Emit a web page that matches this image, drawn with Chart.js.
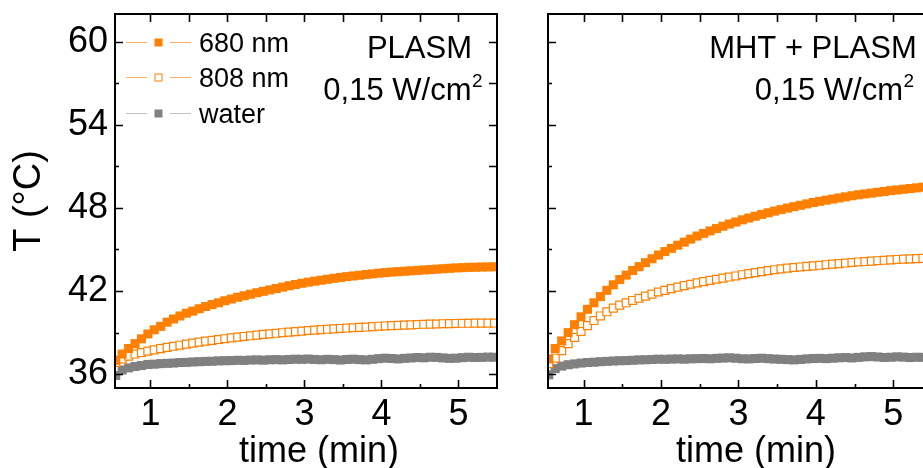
<!DOCTYPE html>
<html><head><meta charset="utf-8">
<script src="https://cdn.jsdelivr.net/npm/chart.js@4.4.0/dist/chart.umd.min.js"></script>
<style>
html,body{margin:0;padding:0;background:#fff;overflow:hidden;width:923px;height:468px;}
#w1{position:absolute;left:0;top:0;width:510px;height:468px;}
#w2{position:absolute;left:505px;top:0;width:440px;height:468px;}
canvas{display:block;}
</style></head><body>
<div id="w1"><canvas id="c1" width="510" height="468"></canvas></div>
<div id="w2"><canvas id="c2" width="440" height="468"></canvas></div>
<script>
// ---- data ----
const timeSec = [33,38,43,48,53,58,63,68,73,78,83,88,93,98,103,108,113,118,123,128,133,138,143,148,153,158,163,168,173,178,183,188,193,198,203,208,213,218,223,228,233,238,243,248,253,258,263,268,273,278,283,288,293,298,303,308,313,318,323,328];
const seriesNames = ['680 nm','808 nm','water'];
const plasm680 = [37.0,37.45,37.85,38.2,38.55,38.9,39.2,39.45,39.75,39.98,
40.2,40.4,40.55,40.72,40.88,41.02,41.15,41.3,41.42,41.55,
41.66,41.77,41.88,41.98,42.08,42.18,42.28,42.38,42.47,42.56,
42.64,42.71,42.78,42.85,42.92,42.98,43.04,43.09,43.14,43.19,
43.24,43.29,43.33,43.37,43.4,43.43,43.46,43.49,43.52,43.55,
43.58,43.61,43.64,43.67,43.69,43.71,43.72,43.73,43.74,43.75];
const plasm808 = [36.85,37.1,37.3,37.45,37.56,37.66,37.75,37.84,37.93,38.01,
38.09,38.17,38.24,38.31,38.38,38.44,38.5,38.56,38.62,38.67,
38.72,38.77,38.82,38.87,38.91,38.95,38.99,39.03,39.07,39.11,
39.15,39.18,39.21,39.24,39.27,39.3,39.33,39.35,39.38,39.4,
39.43,39.46,39.48,39.5,39.52,39.54,39.56,39.58,39.6,39.61,
39.62,39.64,39.65,39.66,39.67,39.67,39.68,39.68,39.68,39.69];
const plasmWater = [35.9,36.3,36.45,36.55,36.62,36.7,36.72,36.76,36.78,36.8,
36.84,36.85,36.88,36.9,36.92,36.93,36.96,36.97,36.98,37.0,
36.99,37.02,37.03,37.01,37.04,37.05,37.03,37.06,37.08,37.07,
37.09,37.06,37.04,37.07,37.05,37.02,37.06,37.08,37.05,37.03,
37.07,37.12,37.15,37.13,37.1,37.14,37.17,37.2,37.18,37.22,
37.21,37.17,37.14,37.15,37.19,37.22,37.2,37.21,37.23,37.22];
const mht680 = [37.1,37.85,38.4,39.0,39.57,40.14,40.68,41.15,41.6,42.05,
42.45,42.83,43.15,43.48,43.76,44.05,44.33,44.6,44.85,45.08,
45.31,45.53,45.75,45.97,46.16,46.34,46.51,46.68,46.84,46.98,
47.14,47.27,47.4,47.53,47.65,47.77,47.88,47.99,48.09,48.19,
48.29,48.39,48.48,48.56,48.64,48.72,48.8,48.88,48.95,49.01,
49.07,49.13,49.19,49.25,49.3,49.35,49.4,49.45,49.5,49.55];
const mht808 = [36.75,37.15,37.7,38.2,38.65,39.08,39.5,39.87,40.2,40.5,
40.77,40.98,41.15,41.32,41.48,41.63,41.78,41.93,42.05,42.17,
42.28,42.39,42.49,42.59,42.68,42.77,42.85,42.93,43.01,43.09,
43.18,43.26,43.33,43.4,43.47,43.54,43.6,43.65,43.7,43.74,
43.78,43.82,43.86,43.9,43.94,43.98,44.02,44.06,44.1,44.13,
44.16,44.19,44.22,44.25,44.28,44.3,44.32,44.34,44.36,44.38];
const mhtWater = [35.95,36.4,36.58,36.68,36.74,36.8,36.84,36.86,36.9,36.92,
36.95,36.97,36.98,37.0,37.03,37.04,37.06,37.08,37.07,37.09,
37.1,37.08,37.11,37.12,37.13,37.11,37.14,37.16,37.18,37.15,
37.11,37.1,37.13,37.15,37.12,37.09,37.07,37.05,37.03,37.06,
37.1,37.13,37.14,37.12,37.15,37.18,37.2,37.17,37.21,37.25,
37.27,37.24,37.2,37.22,37.25,37.23,37.2,37.22,37.21,37.2];
const xTickLabels = [1,2,3,4,5];
const xMinorTicks = [1.5,2.5,3.5,4.5];
const yTickLabels = [36,42,48,54,60];
const yMinorTicks = [39,45,51,57];
const xRange = [0.54, 5.5];
const yRange = [35, 62];
const panelTitles = ['PLASM', 'MHT + PLASM'];
const powerText = '0,15 W/cm';
const powerSup = '2';
const xTitle = 'time (min)';
const yTitle = 'T (°C)';

// ---- build ----
const timeMin = timeSec.map(s => s / 60);
const toXY = arr => arr.map((v, i) => ({x: timeMin[i], y: v}));
const FONT = "'Liberation Sans', Arial, sans-serif";
const ORANGE = '#FF8000', ORANGE_L = '#FFB066', GRAY = '#808080', GRAY_L = '#C4C4C4';

function makeDatasets(a680, a808, aw) {
  return [
    {label: seriesNames[0], data: toXY(a680), borderColor: ORANGE_L, borderWidth: 1,
     pointStyle: 'rect', pointRadius: 6.4, pointBackgroundColor: ORANGE, pointBorderWidth: 0,
     pointBorderColor: ORANGE, clip: 0, order: 1},
    {label: seriesNames[1], data: toXY(a808), borderColor: ORANGE_L, borderWidth: 1,
     pointStyle: 'rect', pointRadius: 5.6, pointBackgroundColor: '#FFFFFF', pointBorderWidth: 1.2,
     pointBorderColor: ORANGE, clip: 0, order: 2},
    {label: seriesNames[2], data: toXY(aw), borderColor: GRAY_L, borderWidth: 1,
     pointStyle: 'rect', pointRadius: 6.4, pointBackgroundColor: GRAY, pointBorderWidth: 0,
     pointBorderColor: GRAY, clip: 0, order: 3}
  ];
}

const framePlugin = {
  id: 'frame',
  afterDatasetsDraw(chart, args, opts) {
    const {ctx, chartArea: a, scales: {x, y}} = chart;
    ctx.save();
    ctx.strokeStyle = '#000';
    ctx.lineWidth = 1.6;
    ctx.beginPath();
    xTickLabels.forEach(v => { const p = Math.round(x.getPixelForValue(v)) + 0.5;
      ctx.moveTo(p, a.bottom); ctx.lineTo(p, a.bottom - 8);
      ctx.moveTo(p, a.top); ctx.lineTo(p, a.top + 8); });
    xMinorTicks.forEach(v => { const p = Math.round(x.getPixelForValue(v)) + 0.5;
      ctx.moveTo(p, a.bottom); ctx.lineTo(p, a.bottom - 4);
      ctx.moveTo(p, a.top); ctx.lineTo(p, a.top + 8); });
    yTickLabels.forEach(v => { const p = Math.round(y.getPixelForValue(v)) + 0.5;
      ctx.moveTo(a.left, p); ctx.lineTo(a.left + 8, p);
      ctx.moveTo(a.right, p); ctx.lineTo(a.right - 8, p); });
    yMinorTicks.forEach(v => { const p = Math.round(y.getPixelForValue(v)) + 0.5;
      ctx.moveTo(a.left, p); ctx.lineTo(a.left + 4, p);
      ctx.moveTo(a.right, p); ctx.lineTo(a.right - 8, p); });
    ctx.stroke();
    ctx.lineWidth = 2;
    ctx.strokeRect(a.left, a.top, a.right - a.left, a.bottom - a.top);
    // texts
    ctx.fillStyle = '#000';
    ctx.textBaseline = 'alphabetic';
    (opts.texts || []).forEach(t => {
      ctx.font = t.size + 'px ' + FONT;
      ctx.textAlign = t.align || 'left';
      ctx.fillText(t.text, t.x, t.y);
    });
    // legend
    if (opts.legend) {
      const L = opts.legend;
      chart.data.datasets.forEach((ds, i) => {
        const cy = L.rows[i];
        ctx.strokeStyle = ds.borderColor; ctx.lineWidth = 1;
        ctx.beginPath();
        ctx.moveTo(L.x0, cy + 0.5); ctx.lineTo(L.x1, cy + 0.5);
        ctx.moveTo(L.x2, cy + 0.5); ctx.lineTo(L.x3, cy + 0.5);
        ctx.stroke();
        const s = 8;
        const mx = (L.x1 + L.x2) / 2;
        if (ds.pointBackgroundColor === '#FFFFFF') {
          ctx.fillStyle = '#fff'; ctx.fillRect(mx - s/2, cy - s/2 + 0.5, s, s);
          ctx.strokeStyle = ds.pointBorderColor; ctx.lineWidth = 1;
          ctx.strokeRect(mx - s/2 + 0.5, cy - s/2 + 1, s - 1, s - 1);
        } else {
          ctx.fillStyle = ds.pointBackgroundColor; ctx.fillRect(mx - s/2, cy - s/2 + 0.5, s, s);
        }
        ctx.fillStyle = '#000';
        ctx.font = L.size + 'px ' + FONT;
        ctx.textAlign = 'left';
        ctx.fillText(ds.label, L.tx, cy + L.dy);
      });
    }
    ctx.restore();
  }
};

function makeOptions(showYLabels, yWidth, right, texts, legend) {
  return {
    responsive: false,
    animation: false,
    layout: {padding: {top: 14, right: right, left: 0, bottom: 0}},
    plugins: {legend: {display: false}, tooltip: {enabled: false}, frame: {texts: texts, legend: legend}},
    scales: {
      x: {
        type: 'linear', min: xRange[0], max: xRange[1],
        grid: {display: false, drawTicks: false}, border: {display: false},
        afterBuildTicks: s => { s.ticks = xTickLabels.map(v => ({value: v})); },
        afterFit: s => { s.height = 80; s.paddingLeft = 0; s.paddingRight = 0; },
        ticks: {color: '#000', font: {family: FONT, size: 36}, padding: 5, maxRotation: 0, autoSkip: false,
                callback: v => String(v)}
      },
      y: {
        type: 'linear', min: yRange[0], max: yRange[1],
        grid: {display: false, drawTicks: false}, border: {display: false},
        afterBuildTicks: s => { s.ticks = yTickLabels.map(v => ({value: v})); },
        afterFit: s => { s.width = yWidth; s.paddingTop = 0; s.paddingBottom = 0; },
        ticks: {display: showYLabels, color: '#000', font: {family: FONT, size: 36}, padding: 7, autoSkip: false,
                callback: v => String(v)},
        title: {display: showYLabels, text: yTitle, color: '#000', font: {family: FONT, size: 38},
                padding: {top: 7, bottom: 0}}
      }
    }
  };
}

new Chart(document.getElementById('c1'), {
  type: 'line',
  data: {datasets: makeDatasets(plasm680, plasm808, plasmWater)},
  options: makeOptions(true, 115, 13, [
    {text: panelTitles[0], x: 472, y: 58, size: 31, align: 'right'},
    {text: powerText, x: 471.5, y: 100, size: 31, align: 'right'},
    {text: powerSup, x: 472, y: 87, size: 19, align: 'left'},
    {text: xTitle, x: 319, y: 462, size: 36, align: 'center'}
  ], {x0: 126, x1: 147, x2: 170, x3: 191, tx: 199, rows: [42, 77, 113], dy: 9.5, size: 27}),
  plugins: [framePlugin]
});

new Chart(document.getElementById('c2'), {
  type: 'line',
  data: {datasets: makeDatasets(mht680, mht808, mhtWater)},
  options: makeOptions(false, 43, 13, [
    {text: panelTitles[1], x: 411.7, y: 58, size: 31, align: 'right'},
    {text: powerText, x: 398, y: 100, size: 31, align: 'right'},
    {text: powerSup, x: 398.5, y: 87, size: 19, align: 'left'},
    {text: xTitle, x: 251, y: 462, size: 36, align: 'center'}
  ], null),
  plugins: [framePlugin]
});
</script>
</body></html>
